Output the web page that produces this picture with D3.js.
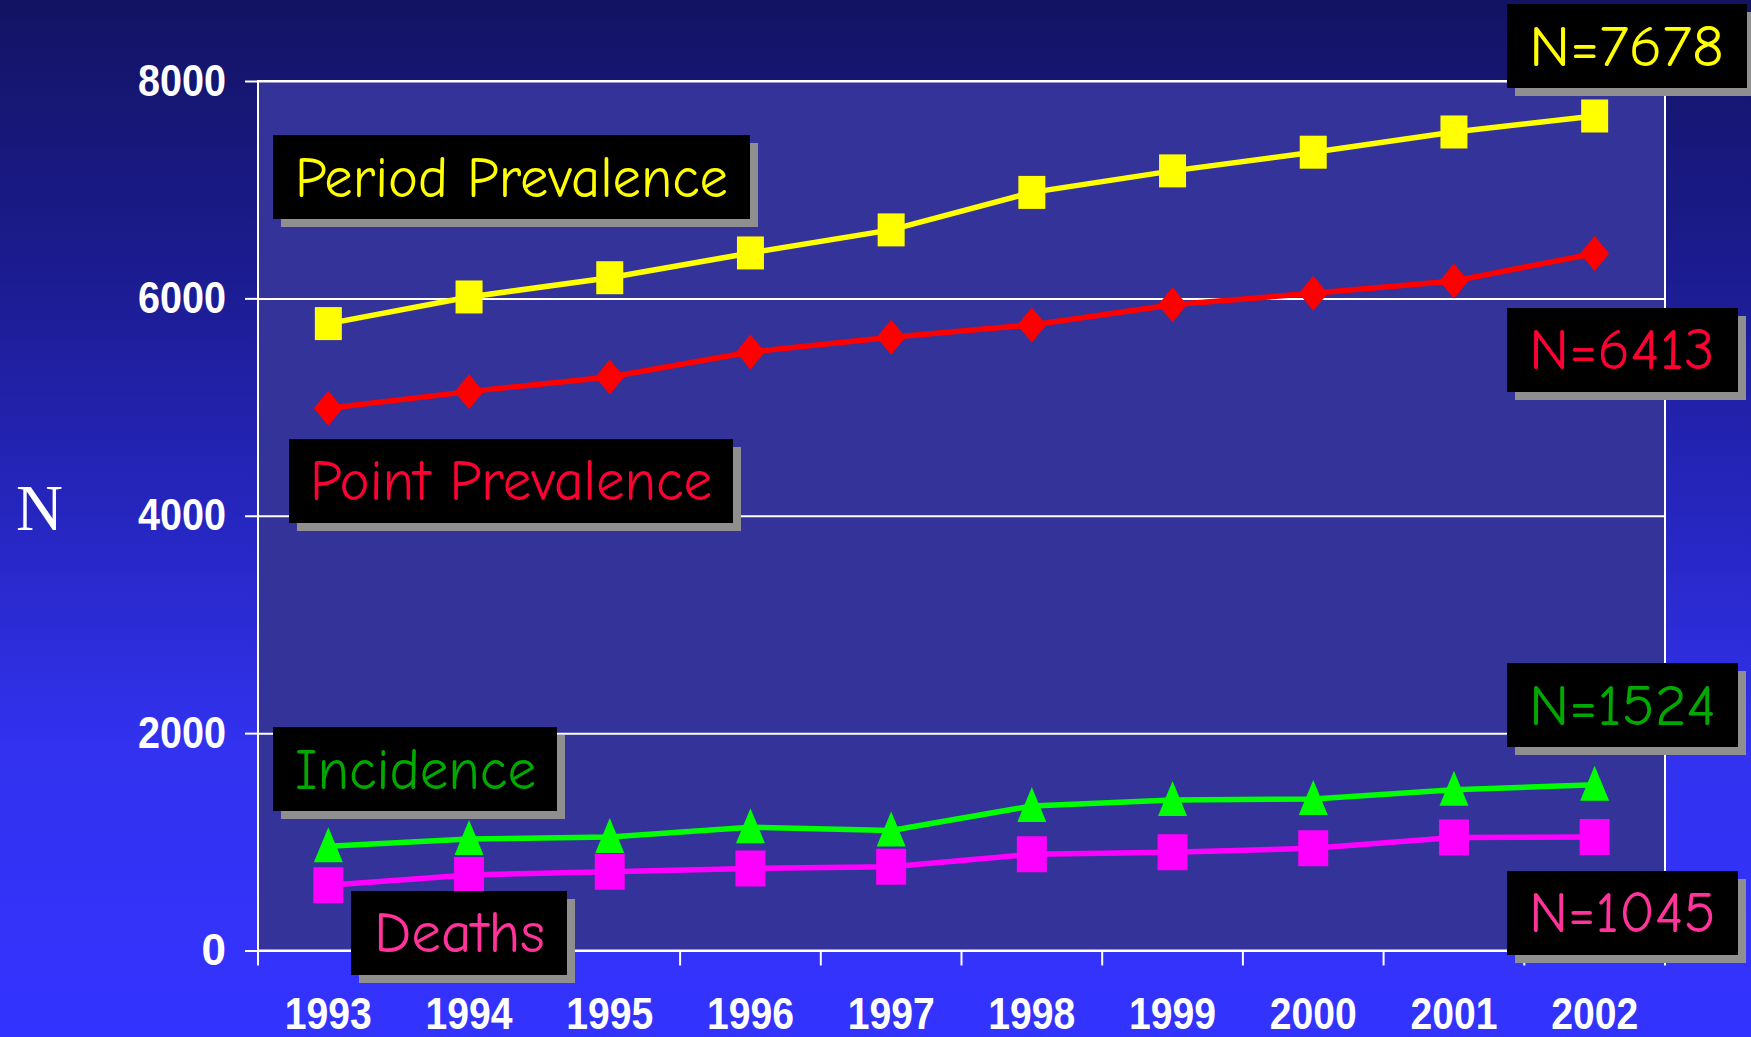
<!DOCTYPE html>
<html><head><meta charset="utf-8">
<script src="https://cdn.jsdelivr.net/npm/d3@7"></script>
<style>html,body{margin:0;padding:0;overflow:hidden;background:#2222aa}svg{display:block}</style>
</head><body>
<script>
// ---- data ----
const years = ["1993","1994","1995","1996","1997","1998","1999","2000","2001","2002"];
const periodPrevalence = [5768, 6013, 6190, 6418, 6630, 6975, 7173, 7345, 7531, 7678];
const pointPrevalence  = [4989, 5142, 5277, 5507, 5643, 5756, 5941, 6047, 6160, 6413];
const incidence        = [960, 1025, 1045, 1135, 1105, 1330, 1385, 1395, 1480, 1524];
const deaths           = [600, 695, 725, 755, 770, 885, 905, 940, 1040, 1045];
const yTicks = [0, 2000, 4000, 6000, 8000];
const seriesNames = ["Period Prevalence", "Point Prevalence", "Incidence", "Deaths"];
const endLabels = ["N=7678", "N=6413", "N=1524", "N=1045"];
const axisTitle = "N";

// ---- layout ----
const W = 1751, H = 1037;
const svg = d3.select("body").append("svg").attr("width", W).attr("height", H);
const defs = svg.append("defs");
const grad = defs.append("linearGradient").attr("id","bg").attr("x1",0).attr("y1",0).attr("x2",0).attr("y2",1);
[[0,"#131364"],[0.25,"#1b1b8e"],[0.5,"#2626c0"],[0.72,"#3232f0"],[1,"#3333ff"]]
  .forEach(([o,c]) => grad.append("stop").attr("offset",o).attr("stop-color",c));
svg.append("rect").attr("width",W).attr("height",H).attr("fill","url(#bg)");

const x = d3.scaleBand().domain(years).range([258, 1665]);
const y = d3.scaleLinear().domain([0, 8000]).range([950.5, 81]);
const cx = d => x(d) + x.bandwidth() / 2;
const [xl, xr] = x.range();

// plot area
svg.append("rect").attr("x", xl).attr("y", y(8000)).attr("width", xr - xl).attr("height", y(0) - y(8000))
  .attr("fill", "#333399");

// gridlines
svg.append("g").attr("transform", `translate(${xl},0)`)
  .call(d3.axisLeft(y).tickValues(yTicks).tickSize(-(xr - xl)).tickFormat(""))
  .call(g => g.select(".domain").remove())
  .call(g => g.selectAll("line").attr("stroke", "#fff").attr("stroke-width", 2));

// plot border
svg.append("rect").attr("x", xl).attr("y", y(8000)).attr("width", xr - xl).attr("height", y(0) - y(8000))
  .attr("fill", "none").attr("stroke", "#fff").attr("stroke-width", 2);

// y axis
const yAxis = svg.append("g").attr("transform", `translate(${xl},0)`)
  .call(d3.axisLeft(y).tickValues(yTicks).tickSize(13).tickPadding(19).tickFormat(d3.format("d")));
yAxis.select(".domain").remove();
yAxis.selectAll("line").attr("stroke", "#fff").attr("stroke-width", 2);
yAxis.selectAll("text").attr("fill", "#fff")
  .style("font-family", "'Liberation Sans', Arial, sans-serif").style("font-weight", "bold").style("font-size", "44px")
  .each(function(d){ const s = String(d); if (s.length > 1) d3.select(this).attr("textLength", 22 * s.length).attr("lengthAdjust", "spacingAndGlyphs"); });

// x axis labels
const xAxis = svg.append("g").attr("transform", `translate(0,${y(0)})`)
  .call(d3.axisBottom(x).tickSize(0).tickPadding(47));
xAxis.select(".domain").remove();
xAxis.selectAll("text").attr("fill", "#fff")
  .style("font-family", "'Liberation Sans', Arial, sans-serif").style("font-weight", "bold").style("font-size", "44px")
  .attr("textLength", 87).attr("lengthAdjust", "spacingAndGlyphs");

// x boundary ticks
const bounds = years.map(d => x(d)).concat([xr]);
svg.append("g").selectAll("line").data(bounds).join("line")
  .attr("x1", d => d).attr("x2", d => d).attr("y1", y(0)).attr("y2", y(0) + 15)
  .attr("stroke", "#fff").attr("stroke-width", 2);

// axis title
svg.append("text").attr("x", 16).attr("y", 530).text(axisTitle)
  .attr("fill", "#fff").style("font-family", "'Liberation Serif', 'Times New Roman', serif").style("font-size", "65px");

// ---- series ----
const line = d3.line().x((v, i) => cx(years[i])).y(v => y(v));
const series = [
  { values: periodPrevalence, color: "#ffff00", shape: "square", w: 27, h: 33 },
  { values: pointPrevalence,  color: "#ff0000", shape: "diamond", w: 29, h: 35 },
  { values: incidence,        color: "#00ff00", shape: "triangle", w: 29, h: 35 },
  { values: deaths,           color: "#ff00ff", shape: "square", w: 30, h: 36 }
];
function markerPath(s) {
  const hw = s.w / 2, hh = s.h / 2;
  if (s.shape === "square") return `M${-hw},${-hh}H${hw}V${hh}H${-hw}Z`;
  if (s.shape === "diamond") return `M0,${-hh}L${hw},0L0,${hh}L${-hw},0Z`;
  return `M0,-19L${hw},16L${-hw},16Z`;
}
series.forEach(s => {
  const g = svg.append("g");
  g.append("path").attr("d", line(s.values)).attr("fill", "none").attr("stroke", s.color).attr("stroke-width", 5.5);
  g.selectAll("path.m").data(s.values).join("path").attr("class", "m")
    .attr("transform", (v, i) => `translate(${cx(years[i])},${y(v)})`)
    .attr("d", markerPath(s)).attr("fill", s.color);
});

// ---- label boxes ----
const textColors = ["#ffff00", "#ff0033", "#00a800", "#ff3399"];
const boxes = [
  { text: seriesNames[0], c: textColors[0], x0: 273, y0: 135, x1: 750, y1: 219, tx: 295, ty: 197, tw: 433 },
  { text: seriesNames[1], c: textColors[1], x0: 289, y0: 439, x1: 733, y1: 523, tx: 310, ty: 500, tw: 402 },
  { text: seriesNames[2], c: textColors[2], x0: 273, y0: 727, x1: 557, y1: 811, tx: 295, ty: 789, tw: 241 },
  { text: seriesNames[3], c: textColors[3], x0: 351, y0: 891, x1: 567, y1: 975, tx: 374, ty: 952, tw: 171 },
  { text: endLabels[0], c: textColors[0], x0: 1507, y0: 4,   x1: 1747, y1: 88,  tx: 1529, ty: 66,  tw: 195 },
  { text: endLabels[1], c: textColors[1], x0: 1507, y0: 308, x1: 1738, y1: 392, tx: 1529, ty: 369, tw: 186 },
  { text: endLabels[2], c: textColors[2], x0: 1507, y0: 663, x1: 1738, y1: 747, tx: 1529, ty: 725, tw: 187 },
  { text: endLabels[3], c: textColors[3], x0: 1507, y0: 871, x1: 1738, y1: 955, tx: 1529, ty: 932, tw: 187 }
];
const bg = svg.append("g").selectAll("g").data(boxes).join("g");
bg.append("rect").attr("x", d => d.x0 + 8).attr("y", d => d.y0 + 8).attr("width", d => d.x1 - d.x0).attr("height", d => d.y1 - d.y0).attr("fill", "#8f8f8f");
bg.append("rect").attr("x", d => d.x0).attr("y", d => d.y0).attr("width", d => d.x1 - d.x0).attr("height", d => d.y1 - d.y0).attr("fill", "#000");
bg.append("text").attr("x", d => d.tx).attr("y", d => d.ty).text(d => d.text)
  .attr("fill", d => d.c).attr("textLength", d => d.tw).attr("lengthAdjust", "spacingAndGlyphs")
  .style("font-family", "'Comic Sans MS', 'Comic Neue', Lato, 'Open Sans', sans-serif").style("font-size", "58px");
</script>
</body></html>
